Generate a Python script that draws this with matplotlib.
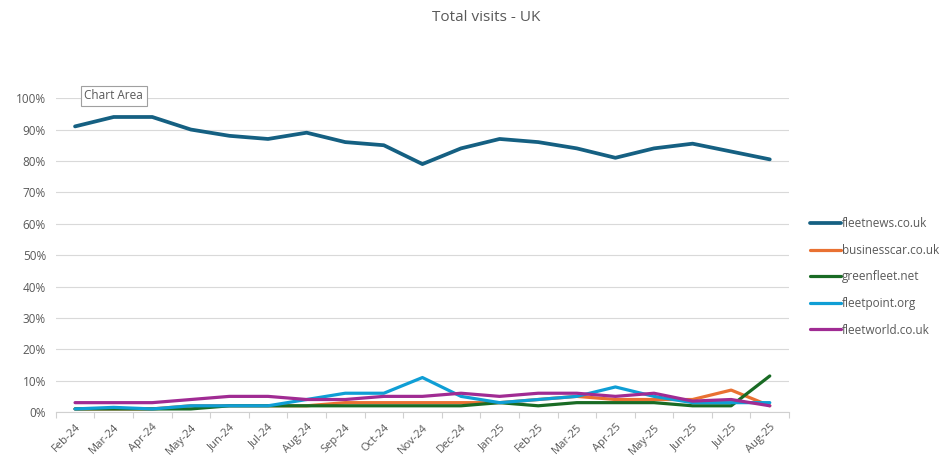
import matplotlib
matplotlib.use("Agg")
import matplotlib.pyplot as plt
from matplotlib.ticker import FixedLocator, PercentFormatter
import numpy as np

months = ['Feb-24', 'Mar-24', 'Apr-24', 'May-24', 'Jun-24', 'Jul-24', 'Aug-24', 'Sep-24',
          'Oct-24', 'Nov-24', 'Dec-24', 'Jan-25', 'Feb-25', 'Mar-25', 'Apr-25', 'May-25',
          'Jun-25', 'Jul-25', 'Aug-25']

fleetnews = [91, 94, 94, 90, 88, 87, 89, 86, 85, 79, 84, 87, 86, 84, 81, 84, 85.5, 83, 80.5]
businesscar = [1, 1, 1, 2, 2, 2, 2, 3, 3, 3, 3, 3, 4, 5, 4, 4, 4, 7, 2]
greenfleet = [1, 1, 1, 1, 2, 2, 2, 2, 2, 2, 2, 3, 2, 3, 3, 3, 2, 2, 11.5]
fleetpoint = [1, 1.5, 1, 2, 2, 2, 4, 6, 6, 11, 5, 3, 4, 5, 8, 5, 3, 3, 3]
fleetworld = [3, 3, 3, 4, 5, 5, 4, 4, 5, 5, 6, 5, 6, 6, 5, 6, 3.5, 4, 2]

series_names = ['fleetnews.co.uk', 'businesscar.co.uk', 'greenfleet.net', 'fleetpoint.org', 'fleetworld.co.uk']
series_values = [fleetnews, businesscar, greenfleet, fleetpoint, fleetworld]
colors = ['#156082', '#E97132', '#196B24', '#0F9ED5', '#A02B93']

plt.rcParams['font.family'] = ['Open Sans', 'DejaVu Sans']
text_color = '#595959'

fig = plt.figure(figsize=(9.45, 4.63), dpi=100)
ax = fig.add_axes([0.059, 0.110, 0.776, 0.678])

x = np.arange(len(months))
for name, vals, c in zip(series_names, series_values, colors):
    lw = 2.7 if name == 'fleetnews.co.uk' else 2.3
    ax.plot(x, vals, color=c, lw=lw, label=name, solid_joinstyle='round', solid_capstyle='round')

ax.set_xlim(-0.5, len(months) - 0.5)
ax.set_ylim(0, 100)
ax.yaxis.set_major_locator(FixedLocator(np.arange(0, 101, 10)))
ax.yaxis.set_major_formatter(PercentFormatter(decimals=0))
ax.grid(axis='y', color='#D9D9D9', lw=0.8)
ax.set_axisbelow(True)
for s in ['top', 'right', 'left']:
    ax.spines[s].set_visible(False)
ax.spines['bottom'].set_color('#D0D0D0')
ax.spines['bottom'].set_linewidth(0.8)

ax.set_xticks(x)
ax.set_xticklabels(months, rotation=45, ha='right', rotation_mode='anchor',
                   fontsize=8, color=text_color)
ax.tick_params(axis='x', length=0, pad=7)
ax.set_xticks(np.arange(-0.5, len(months), 1), minor=True)
ax.tick_params(axis='x', which='minor', length=4, color='#D0D0D0', width=0.8)
ax.tick_params(axis='y', length=0, labelsize=8.5, labelcolor=text_color, pad=7)

fig.text(0.515, 0.962, 'Total visits - UK', ha='center', va='center', fontsize=11,
         color=text_color)

fig.text(0.089, 0.793, 'Chart Area', ha='left', va='center', fontsize=8.5, color=text_color,
         bbox=dict(boxstyle='square,pad=0.3', facecolor='white', edgecolor='#A0A0A0', lw=0.8))

leg = fig.legend(loc='center left', bbox_to_anchor=(0.857, 0.402), frameon=False,
                 fontsize=8.5, handlelength=2.6, handletextpad=0.15, labelspacing=1.15,
                 borderpad=0, borderaxespad=0)
for t in leg.get_texts():
    t.set_color(text_color)

fig.savefig('out.png', dpi=100)
